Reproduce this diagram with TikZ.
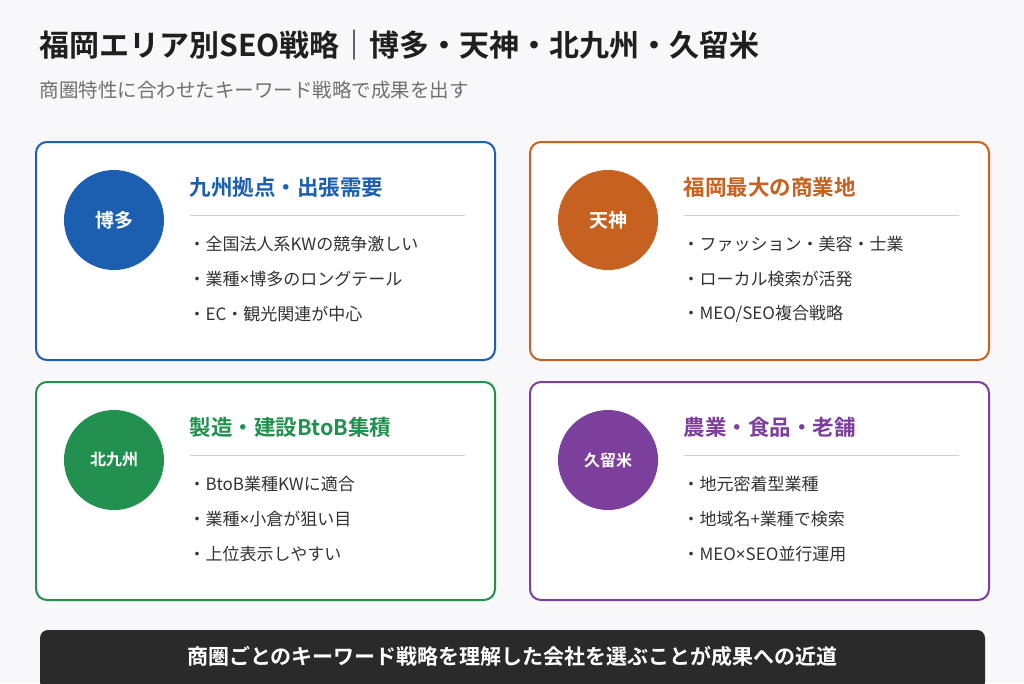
\documentclass[tikz,border=0pt]{standalone}
\usepackage{fontspec}
\setmainfont{Noto Sans CJK JP}
\newfontfamily\boldjp{Noto Sans CJK JP Bold}
\newfontfamily\latinx{Noto Sans}
\definecolor{hakata}{HTML}{1C5FB0}
\definecolor{tenjin}{HTML}{C6611F}
\definecolor{kita}{HTML}{22914F}
\definecolor{kurume}{HTML}{7D3F9C}
\definecolor{bgc}{HTML}{F8F8FA}
\definecolor{subc}{HTML}{707070}
\definecolor{txtc}{HTML}{333333}
\definecolor{barc}{HTML}{2A2A2A}
\newcommand{\tms}{{\latinx ×}}
\tikzset{
  card/.style={draw, line width=2pt, rounded corners=11pt, fill=white},
  badge/.style={circle, minimum size=100pt, inner sep=0pt, text=white, font=\boldjp\fontsize{19}{19}\selectfont},
  head/.style={anchor=west, font=\boldjp\fontsize{21.5}{22}\selectfont},
  item/.style={anchor=west, text=txtc, font=\fontsize{17}{17}\selectfont}
}
\newcommand{\areacard}[8]{%
  \node[card, draw=#3, minimum width=459pt, minimum height=218pt, anchor=north west] (#4card) at (#1,#2) {};
  \node[badge, fill=#3] (#4badge) at ($(#1,#2)+(79pt,-79pt)$) {#5};
  \node[head, text=#3] (#4head) at ($(#1,#2)+(151pt,-46pt)$) {#6};
  \draw[black!18, line width=1pt] ($(#1,#2)+(155pt,-74pt)$) -- ($(#1,#2)+(430pt,-74pt)$);
  \foreach \t [count=\i] in {#7} {
    \node[item] (#4item\i) at ($(#1,#2)+(150pt,-68pt-35pt*\i)$) {・\t};
  }
}
\usetikzlibrary{calc}
\begin{document}
\begin{tikzpicture}[x=1pt,y=1pt]
  \fill[bgc] (0,0) rectangle (1024,-683);
  \useasboundingbox (0,0) rectangle (1024,-683);
  % title
  \node[anchor=west, text=black!88, font=\boldjp\fontsize{30}{30}\selectfont] (title) at (36,-45) {福岡エリア別SEO戦略｜博多・天神・北九州・久留米};
  \node[anchor=west, text=subc, font=\fontsize{19.5}{20}\selectfont] (subtitle) at (36,-90) {商圏特性に合わせたキーワード戦略で成果を出す};
  % cards
  \areacard{35}{-141}{hakata}{hk}{博多}{九州拠点・出張需要}{全国法人系KWの競争激しい,業種\tms 博多のロングテール,EC・観光関連が中心}{}
  \areacard{529}{-141}{tenjin}{tj}{天神}{福岡最大の商業地}{ファッション・美容・士業,ローカル検索が活発,MEO/SEO複合戦略}{}
  \areacard{35}{-381}{kita}{kk}{\fontsize{16}{16}\selectfont 北九州}{製造・建設BtoB集積}{BtoB業種KWに適合,業種\tms 小倉が狙い目,上位表示しやすい}{}
  \areacard{529}{-381}{kurume}{kr}{\fontsize{16}{16}\selectfont 久留米}{農業・食品・老舗}{地元密着型業種,地域名+業種で検索,MEO\tms SEO並行運用}{}
  % bottom bar
  \fill[barc, rounded corners=8pt] (40,-630) rectangle (985,-690);
  \node[text=white, font=\boldjp\fontsize{21}{21}\selectfont] (bar) at (512.5,-656) {商圏ごとのキーワード戦略を理解した会社を選ぶことが成果への近道};
\end{tikzpicture}
\end{document}
